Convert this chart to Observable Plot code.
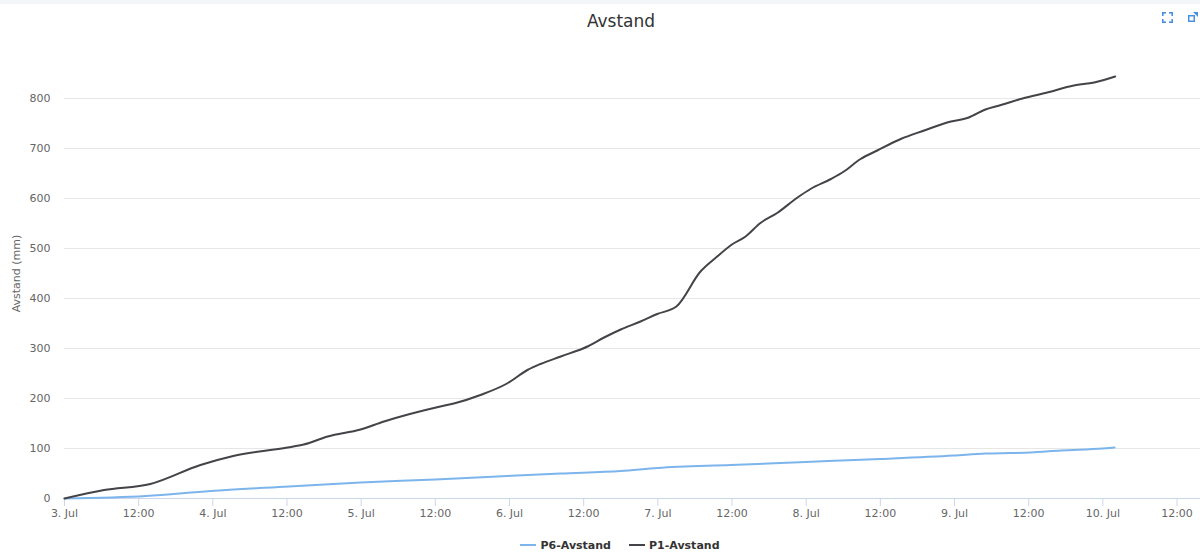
<!DOCTYPE html>
<html>
<head>
<meta charset="utf-8">
<script src="https://cdn.jsdelivr.net/npm/d3@7"></script>
<script src="https://cdn.jsdelivr.net/npm/@observablehq/plot@0.6"></script>
<style>
  html, body { margin:0; padding:0; background:#fff; }
  body { width:1200px; height:552px; position:relative; overflow:hidden; font-family:"DejaVu Sans", Verdana, sans-serif; }
  #topbar { position:absolute; left:0; top:0; width:1200px; height:4px; background:#f3f5f8; }
  #title { position:absolute; left:0; top:11px; width:1242px; text-align:center; font-size:17px; color:#333; }
  #chart { position:absolute; left:0; top:40px; }
  #legend { position:absolute; top:539px; left:0; width:1240px; text-align:center; font-size:11px; font-weight:bold; color:#333; }
  #legend span.item { display:inline-block; margin:0 9px; }
  #legend span.sym { display:inline-block; width:16px; height:2px; vertical-align:middle; margin-right:4px; position:relative; top:-1px; }
  .icon { position:absolute; top:12px; }
</style>
</head>
<body>
<div id="topbar"></div>
<div id="title">Avstand</div>
<svg class="icon" style="left:1162px" width="11" height="11" viewBox="0 0 11 11"><g fill="#4a90e2"><rect x="0" y="0" width="4" height="1.6"/><rect x="0" y="0" width="1.6" height="4"/><rect x="7" y="0" width="4" height="1.6"/><rect x="9.4" y="0" width="1.6" height="4"/><rect x="0" y="9.4" width="4" height="1.6"/><rect x="0" y="7" width="1.6" height="4"/><rect x="7" y="9.4" width="4" height="1.6"/><rect x="9.4" y="7" width="1.6" height="4"/></g></svg>
<svg class="icon" style="left:1188px" width="10" height="10" viewBox="0 0 10 10"><g fill="#4a90e2"><rect x="0" y="3" width="7" height="7"/><polygon points="5,0 10,0 10,5"/></g><rect x="1.5" y="4.5" width="4" height="4" fill="#fff"/></svg>
<div id="chart"></div>
<div id="legend"><span class="item"><span class="sym" style="background:#7cb5ec"></span>P6-Avstand</span><span class="item"><span class="sym" style="background:#434348"></span>P1-Avstand</span></div>
<script>
// ---- data ----
const p1Times = ["2023-07-03T00:00","2023-07-03T06:24","2023-07-03T13:54","2023-07-03T22:00","2023-07-04T03:18","2023-07-04T12:06","2023-07-04T14:42","2023-07-04T18:36","2023-07-04T23:54","2023-07-05T03:42","2023-07-05T12:48","2023-07-05T15:00","2023-07-05T19:18","2023-07-05T23:36","2023-07-06T02:54","2023-07-06T05:00","2023-07-06T08:18","2023-07-06T12:48","2023-07-06T15:18","2023-07-06T18:00","2023-07-06T21:12","2023-07-06T23:54","2023-07-07T03:00","2023-07-07T06:54","2023-07-07T09:36","2023-07-07T12:06","2023-07-07T14:12","2023-07-07T16:36","2023-07-07T19:18","2023-07-07T22:36","2023-07-08T00:42","2023-07-08T04:00","2023-07-08T06:06","2023-07-08T08:48","2023-07-08T11:30","2023-07-08T15:18","2023-07-08T19:06","2023-07-08T22:48","2023-07-09T02:18","2023-07-09T05:00","2023-07-09T07:30","2023-07-09T11:00","2023-07-09T15:00","2023-07-09T19:18","2023-07-09T22:36","2023-07-10T02:00"];
const p1Values = [0,17,29,67,85,102,108,124,138,154,184,190,207,230,257,269,284,305,322,338,354,369,384,454,484,509,524,551,571,602,619,639,654,679,696,719,736,752,762,778,787,800,812,826,832,844];

const p6Times = ["2023-07-03T00:00","2023-07-03T13:12","2023-07-03T23:36","2023-07-04T12:18","2023-07-04T23:54","2023-07-05T12:00","2023-07-05T23:36","2023-07-06T08:18","2023-07-06T18:00","2023-07-07T00:00","2023-07-07T11:48","2023-07-07T23:54","2023-07-08T12:00","2023-07-08T23:54","2023-07-09T05:00","2023-07-09T09:00","2023-07-09T12:18","2023-07-09T17:12","2023-07-10T00:00","2023-07-10T01:54"];
const p6Values = [0,5,15,24,32,38,45,50,55,61,67,73,79,86,90,91,92,96,100,102];

const yTicks = [0,100,200,300,400,500,600,700,800];
const xStart = "2023-07-03T00:00";
const xEnd = "2023-07-10T15:48";
const xTickStep = 12; // hours
const seriesNames = ["P6-Avstand","P1-Avstand"];
const seriesColors = ["#7cb5ec","#434348"];

// ---- build ----
const parse = s => new Date(s + ":00Z");
const p1 = p1Times.map((t,i) => ({t: parse(t), v: p1Values[i], s: seriesNames[1]}));
const p6 = p6Times.map((t,i) => ({t: parse(t), v: p6Values[i], s: seriesNames[0]}));
const x0 = parse(xStart), x1 = parse(xEnd);
const xTicks = d3.utcHour.every(xTickStep).range(x0, x1);
const fmt = d => d.getUTCHours() === 0 ? `${d.getUTCDate()}. Jul` : d3.utcFormat("%H:%M")(d);

const chart = Plot.plot({
  width: 1200,
  height: 490,
  marginLeft: 64,
  marginRight: 0,
  marginTop: 8,
  marginBottom: 32,
  style: {fontFamily: '"DejaVu Sans", Verdana, sans-serif', fontSize: "11px", color: "#666", background: "transparent"},
  x: {type: "utc", domain: [x0, x1]},
  y: {domain: [0, 900]},
  color: {domain: seriesNames, range: seriesColors},
  marks: [
    Plot.gridY(yTicks.filter(d => d > 0), {stroke: "#e6e6e6", strokeOpacity: 1}),
    Plot.axisY(yTicks, {tickSize: 0, tickPadding: 14, label: "Avstand (mm)", labelAnchor: "center", labelArrow: "none", labelOffset: 52, fontSize: 11}),
    Plot.ruleY([0], {stroke: "#ccd6eb"}),
    Plot.axisX(xTicks, {tickSize: 8, tickPadding: 3, stroke: "#ccd6eb", fill: "#666", tickFormat: fmt, label: null}),
    Plot.line(p6, {x: "t", y: "v", stroke: "s", strokeWidth: 2, curve: "monotone-x"}),
    Plot.line(p1, {x: "t", y: "v", stroke: "s", strokeWidth: 2, curve: "monotone-x"})
  ]
});
document.getElementById("chart").appendChild(chart);
</script>
</body>
</html>
